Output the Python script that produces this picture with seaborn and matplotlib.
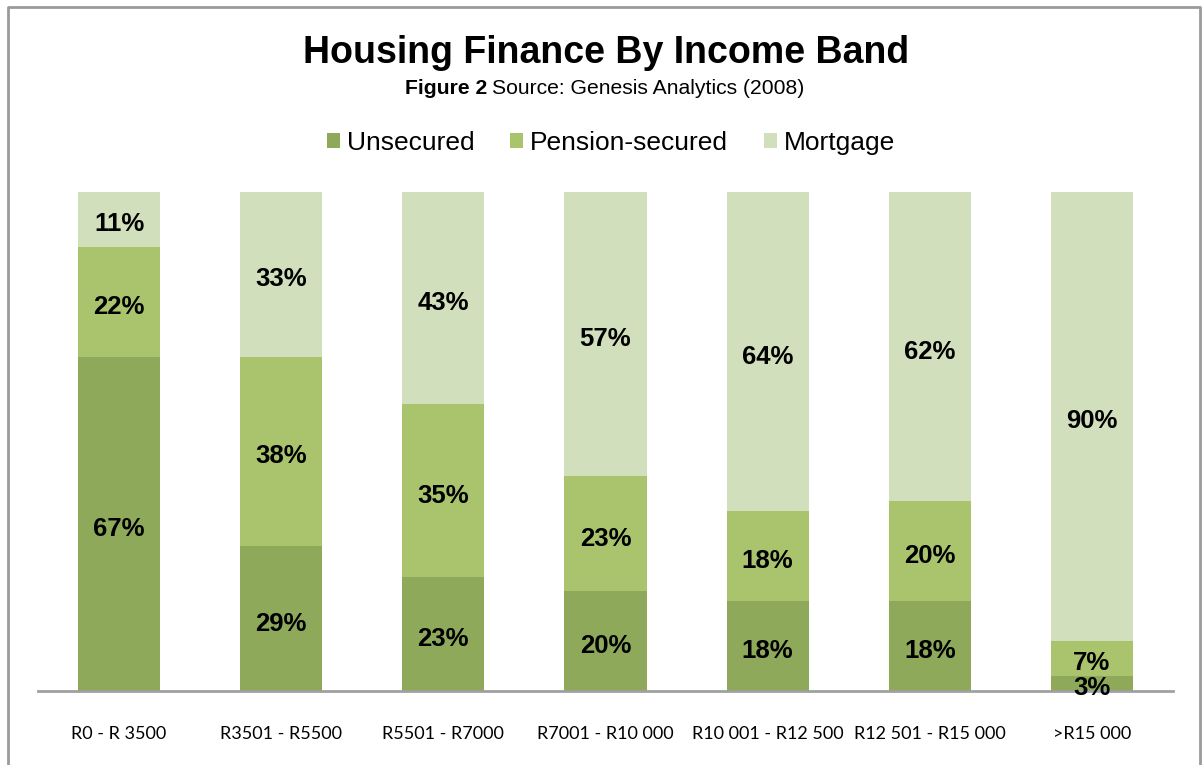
import matplotlib
matplotlib.use('Agg')
from matplotlib import pyplot as plt
from matplotlib.lines import Line2D
import seaborn as sns
import pandas as pd
import numpy as np

bands      = ['R0 - R 3500', 'R3501 - R5500', 'R5501 - R7000', 'R7001 - R10 000',
              'R10 001 - R12 500', 'R12 501 - R15 000', '>R15 000']
unsecured  = [67, 29, 23, 20, 18, 18, 3]
pension    = [22, 38, 35, 23, 18, 20, 7]
mortgage   = [11, 33, 43, 57, 64, 62, 90]
series     = ['Unsecured', 'Pension-secured', 'Mortgage']
colors     = ['#8FA95A', '#AAC46E', '#D1DFBC']

df = pd.DataFrame({'band': bands, 'Unsecured': unsecured,
                   'Pension-secured': pension, 'Mortgage': mortgage})
# 100% stacked: normalise each band
tot = df[series].sum(axis=1)
share = df[series].div(tot, axis=0) * 100
cum = share.cumsum(axis=1)
cum['band'] = df['band']

sns.set_style('white')
plt.rcParams['text.color'] = 'black'
fig = plt.figure(figsize=(12.04, 7.65), dpi=100)
ax = fig.add_axes([38/1204, 74/765, 1135/1204, 499/765])

# draw back to front so the shorter cumulative bars sit on top
for name, col in zip(series[::-1], colors[::-1]):
    sns.barplot(data=cum, x='band', y=name, color=col, saturation=1,
                width=0.506, label=name, ax=ax, linewidth=0)

# labels centred in each segment
for i in range(len(bands)):
    lower = 0
    for name in series:
        val = df.loc[i, name]
        h = share.loc[i, name]
        ax.annotate('%d%%' % val, (i, lower + h / 2), xytext=(0, -3.5),
                    textcoords='offset points', ha='center', va='center',
                    fontsize=18.5, fontweight='bold', family='Liberation Sans',
                    color='black')
        lower += h

ax.set_xlim(-0.5, len(bands) - 0.5)
ax.set_ylim(0, 100)
ax.set_xlabel('')
ax.set_ylabel('')
ax.set_yticks([])
ax.tick_params(axis='x', length=0, pad=25, labelsize=13, labelcolor='black')
for lab in ax.get_xticklabels():
    lab.set_family('Lato')
for s in ['top', 'right', 'left']:
    ax.spines[s].set_visible(False)
ax.spines['bottom'].set_color('#A0A0A0')
ax.spines['bottom'].set_linewidth(2)

handles, labels = ax.get_legend_handles_labels()
order = [labels.index(n) for n in series]
ax.legend([handles[k] for k in order], series, loc='center',
          bbox_to_anchor=(611/1204, 1 - 143/765), bbox_transform=fig.transFigure,
          ncol=3, frameon=False, handlelength=0.5, handleheight=0.5,
          handletextpad=0.25, columnspacing=1.35,
          prop={'family': 'Liberation Sans', 'size': 19})

fig.text(606/1204, 1 - 53/765, 'Housing Finance By Income Band', ha='center', va='center',
         fontsize=27, fontweight='bold', family='Liberation Sans')
fig.text(487/1204, 1 - 88/765, 'Figure 2', ha='right', va='center',
         fontsize=15.2, fontweight='bold', family='Liberation Sans')
fig.text(492/1204, 1 - 88/765, 'Source: Genesis Analytics (2008)', ha='left', va='center',
         fontsize=15.2, family='Liberation Sans')

# outer frame (bottom edge cut off)
fx = [8/1204, 8/1204, 1200/1204, 1200/1204]
fy = [0, 1 - 7/765, 1 - 7/765, 0]
fig.add_artist(Line2D(fx, fy, transform=fig.transFigure, color='#9A9A9A', lw=2))

plt.savefig('out.png', dpi=100)
plt.close('all')
